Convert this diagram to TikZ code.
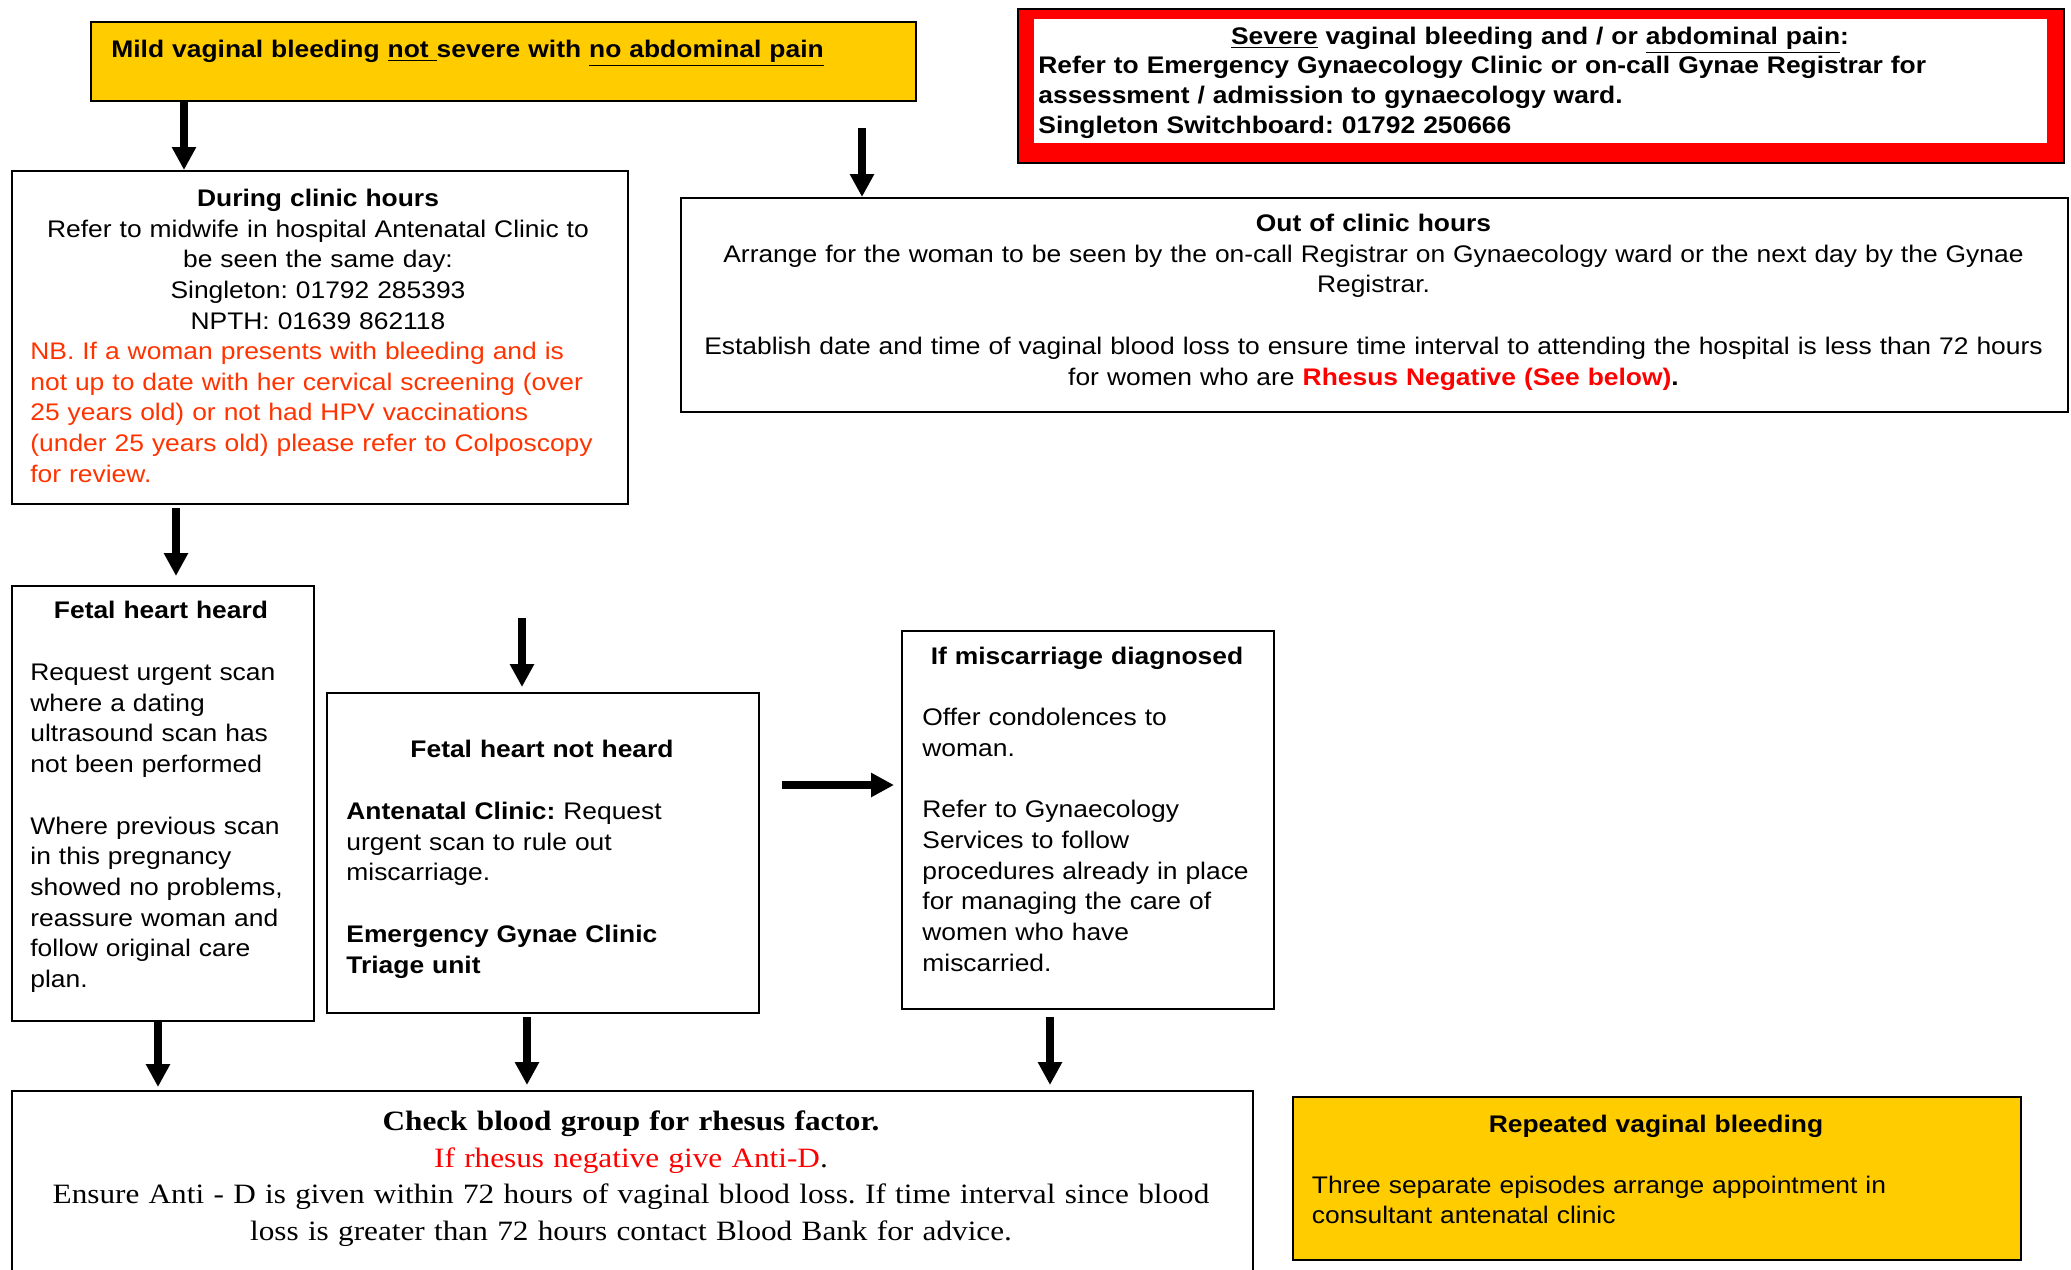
\documentclass[tikz,border=0pt]{standalone}
\usepackage{fontspec}
\setmainfont{Liberation Sans}[FakeStretch=1.1]
\newfontfamily\timesfont{Liberation Serif}[FakeStretch=1.115]
\usetikzlibrary{arrows.meta}
\definecolor{ylw}{HTML}{FFCC00}
\definecolor{nbred}{HTML}{FF3300}
\definecolor{rred}{HTML}{FF0000}
\frenchspacing
\begin{document}
\begin{tikzpicture}[x=0.5pt,y=-0.5pt,
  box/.style={draw=black,line width=1pt,rectangle,inner sep=0pt,anchor=north west},
  txt/.style={inner sep=0pt,font=\fontsize{12}{15.35}\selectfont},
  ctxt/.style={txt,align=center,anchor=base},
  ltxt/.style={txt,align=left,anchor=base west},
  arr/.style={line width=4pt,-{Triangle[length=11.5pt,width=11.5pt]}}]
\useasboundingbox (0,0) rectangle (2071,1269);
\clip (0,0) rectangle (2071,1269);

% boxes
\node[box,fill=ylw,minimum width=412.5pt,minimum height=39.5pt] (mild) at (90,21) {};
\node[box,fill=rred,line width=0.8pt,minimum width=523pt,minimum height=77pt] (severe) at (1017,8) {};
\fill[white] (1034,19) rectangle (2047,143);
\node[box,minimum width=308.25pt,minimum height=166.5pt] (during) at (10.5,170) {};
\node[box,minimum width=693.5pt,minimum height=107pt] (out) at (680,197) {};
\node[box,minimum width=151.25pt,minimum height=217.5pt] (heard) at (10.5,585) {};
\node[box,minimum width=216pt,minimum height=160pt] (notheard) at (326,692) {};
\node[box,minimum width=186pt,minimum height=189pt] (misc) at (901,630) {};
\node[box,minimum width=620.75pt,minimum height=100pt] (blood) at (10.5,1090) {};
\node[box,fill=ylw,minimum width=364pt,minimum height=81.5pt] (repeated) at (1292,1096) {};

% texts
\node[ltxt,font=\fontsize{12}{15.35}\selectfont\bfseries,text width=420pt] (mildt) at (111,57.5)
  {Mild vaginal bleeding \underline{not\ }severe with \underline{no abdominal pain}};

\node[ctxt,font=\fontsize{12}{15}\selectfont\bfseries,text width=500pt] (severet1) at (1540,44.5)
  {\underline{Severe} vaginal bleeding and / or \underline{abdominal pain}:};
\node[ltxt,font=\fontsize{12}{15}\selectfont\bfseries,text width=500pt] (severet2) at (1038,73.5)
  {Refer to Emergency Gynaecology Clinic or on-call Gynae Registrar for\\
   assessment / admission to gynaecology ward.\\
   Singleton Switchboard: 01792 250666};

\node[ctxt,text width=300pt] (duringt1) at (318,206.5)
  {\textbf{During clinic hours}\\
   Refer to midwife in hospital Antenatal Clinic to\\
   be seen the same day:\\
   Singleton: 01792 285393\\
   NPTH: 01639 862118};
\node[ltxt,text width=300pt,text=nbred] (duringt2) at (30,359.5)
  {NB. If a woman presents with bleeding and is\\
   not up to date with her cervical screening (over\\
   25 years old) or not had HPV vaccinations\\
   (under 25 years old) please refer to Colposcopy\\
   for review.};

\node[ctxt,text width=690pt] (outt) at (1373.5,231.5)
  {\textbf{Out of clinic hours}\\
   Arrange for the woman to be seen by the on-call Registrar on Gynaecology ward or the next day by the Gynae\\
   Registrar.\\[15.35pt]
   Establish date and time of vaginal blood loss to ensure time interval to attending the hospital is less than 72 hours\\
   for women who are \textcolor{rred}{\textbf{Rhesus Negative (See below)}}\textbf{.}};

\node[ctxt,text width=145pt] (heardt1) at (161,618.5) {\textbf{Fetal heart heard}};
\node[ltxt,text width=140pt] (heardt2) at (30,680.5)
  {Request urgent scan\\
   where a dating\\
   ultrasound scan has\\
   not been performed\\[15.35pt]
   Where previous scan\\
   in this pregnancy\\
   showed no problems,\\
   reassure woman and\\
   follow original care\\
   plan.};

\node[ctxt,text width=200pt] (notheardt1) at (542,757.5) {\textbf{Fetal heart not heard}};
\node[ltxt,text width=200pt] (notheardt2) at (346,819.5)
  {\textbf{Antenatal Clinic:} Request\\
   urgent scan to rule out\\
   miscarriage.\\[15.35pt]
   \textbf{Emergency Gynae Clinic}\\
   \textbf{Triage unit}};

\node[ctxt,text width=180pt] (misct1) at (1087,664.5) {\textbf{If miscarriage diagnosed}};
\node[ltxt,text width=180pt] (misct2) at (922,725.5)
  {Offer condolences to\\
   woman.\\[15.35pt]
   Refer to Gynaecology\\
   Services to follow\\
   procedures already in place\\
   for managing the care of\\
   women who have\\
   miscarried.};

\node[ctxt,text width=610pt,font=\timesfont\fontsize{14}{18.3}\selectfont] (bloodt) at (631,1130.5)
  {\textbf{Check blood group for rhesus factor.}\\
   \textcolor{rred}{If rhesus negative give Anti-D}.\\
   Ensure Anti - D is given within 72 hours of vaginal blood loss. If time interval since blood\\
   loss is greater than 72 hours contact Blood Bank for advice.};

\node[ctxt,text width=350pt] (repeatedt1) at (1656,1132.5) {\textbf{Repeated vaginal bleeding}};
\node[ltxt,text width=350pt,font=\fontsize{12}{15}\selectfont] (repeatedt2) at (1311.5,1193.5)
  {Three separate episodes arrange appointment in\\
   consultant antenatal clinic};

% arrows
\coordinate (a1) at (184,0);
\draw[arr] (a1 |- mild.south) -- (a1 |- during.north);
\coordinate (a2s) at (862,128);
\draw[arr] (a2s) -- (a2s |- out.north);
\coordinate (a3s) at (176,508);
\coordinate (a3e) at (176,576);
\draw[arr] (a3s) -- (a3e);
\coordinate (a4s) at (522,618);
\coordinate (a4e) at (522,687);
\draw[arr] (a4s) -- (a4e);
\coordinate (a5s) at (782,785);
\coordinate (a5e) at (894,785);
\draw[arr] (a5s) -- (a5e);
\coordinate (a6) at (158,0);
\draw[arr] (a6 |- heard.south) -- (158,1087);
\coordinate (a7s) at (527,1017);
\coordinate (a7e) at (527,1085);
\draw[arr] (a7s) -- (a7e);
\coordinate (a8s) at (1050,1017);
\coordinate (a8e) at (1050,1085);
\draw[arr] (a8s) -- (a8e);
\end{tikzpicture}
\end{document}
